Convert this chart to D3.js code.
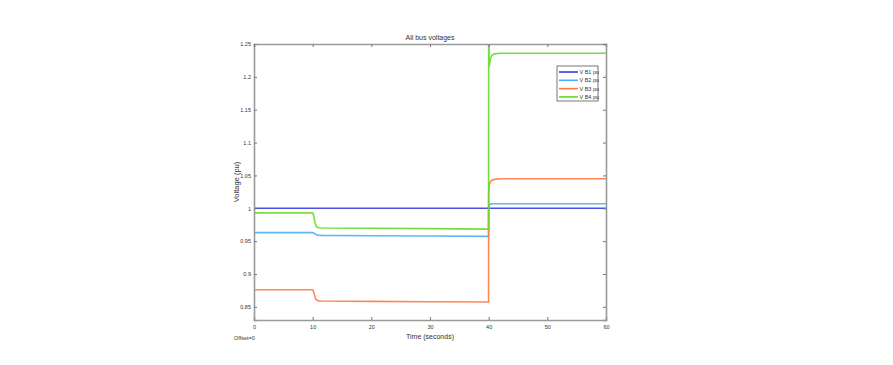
<!DOCTYPE html>
<html><head><meta charset="utf-8">
<script src="https://cdn.jsdelivr.net/npm/d3@7"></script>
<style>body{margin:0;background:#fff}svg{display:block}text{font-family:"Liberation Sans",Arial,sans-serif;fill:#333}</style>
</head><body><svg id="c" width="893" height="365"></svg>
<script>
const seriesNames = ["V B1 pu","V B2 pu","V B3 pu","V B4 pu"];
const seriesColors = ["#3a3ae6","#4ab0f5","#ff7a45","#66d92a"];
const time = [0,0.02,10.0,10.2,10.4,10.6,10.8,11.0,11.5,20,30,39.98,40.0,40.1,40.3,40.6,41.0,42.0,50,60];
const vB1 = [1.0,1.0,1.0,1.0,1.0,1.0,1.0,1.0,1.0,1.0,1.0,1.0,1.0,1.0,1.0,1.0,1.0,1.0,1.0,1.0];
const vB2 = [0.963,0.963,0.963,0.962,0.961,0.960,0.959,0.959,0.9588,0.9583,0.9578,0.9573,1.002,1.005,1.006,1.007,1.007,1.007,1.007,1.007];
const vB3 = [0.876,0.876,0.876,0.872,0.865,0.861,0.860,0.859,0.8588,0.8583,0.8578,0.8573,1.020,1.035,1.041,1.043,1.044,1.045,1.045,1.045];
const vB4 = [0.80,0.993,0.993,0.988,0.978,0.973,0.971,0.9705,0.970,0.9697,0.9690,0.9683,1.300,1.215,1.228,1.233,1.235,1.236,1.236,1.236];
const xTicks = [0,10,20,30,40,50,60];
const yTicks = [0.85,0.9,0.95,1,1.05,1.1,1.15,1.2,1.25];
const yTickLabels = ["0.85","0.9","0.95","1","1.05","1.1","1.15","1.2","1.25"];

const svg = d3.select("#c");
const L=254,R=606,T=44,B=320;
const x = d3.scaleLinear().domain([0,60]).range([L,R]);
const y = d3.scaleLinear().domain([0.83,1.25]).range([B,T]);

svg.append("defs").append("clipPath").attr("id","clip").append("rect")
  .attr("x",L).attr("y",T).attr("width",R-L).attr("height",B-T);

const all=[vB1,vB2,vB3,vB4];
const line=d3.line().x((d,i)=>x(time[i])).y(d=>y(d));
const g=svg.append("g").attr("clip-path","url(#clip)");
all.forEach((s,k)=>{
  g.append("path").attr("d",line(s)).attr("fill","none")
   .attr("stroke",seriesColors[k]).attr("stroke-width",1.6).attr("stroke-opacity",0.9);
});

const ac="#9a9a9a";
const fs="5.5px";
const ax=d3.axisBottom(x).tickValues(xTicks).tickSize(-3).tickPadding(5).tickFormat(d3.format("d"));
const gx=svg.append("g").attr("transform",`translate(0,${B})`).call(ax);
const ay=d3.axisLeft(y).tickValues(yTicks).tickSize(-3).tickPadding(3).tickFormat((d,i)=>yTickLabels[i]);
const gy=svg.append("g").attr("transform",`translate(${L},0)`).call(ay);
const axT=d3.axisTop(x).tickValues(xTicks).tickSize(-3).tickFormat("");
const gt=svg.append("g").attr("transform",`translate(0,${T})`).call(axT);
const ayR=d3.axisRight(y).tickValues(yTicks).tickSize(-3).tickFormat("");
const gr=svg.append("g").attr("transform",`translate(${R},0)`).call(ayR);
[gx,gy,gt,gr].forEach(gg=>{
  gg.select(".domain").attr("stroke",ac).attr("stroke-width",1.6);
  gg.selectAll(".tick line").attr("stroke","#777");
  gg.selectAll("text").style("font-size",fs).attr("fill","#333").style("font-family","Liberation Sans, Arial, sans-serif");
});

svg.append("text").attr("x",(L+R)/2).attr("y",40).attr("text-anchor","middle").style("font-size","7px").text("All bus voltages");
svg.append("text").attr("x",(L+R)/2).attr("y",339).attr("text-anchor","middle").style("font-size","7px").text("Time (seconds)");
svg.append("text").attr("transform",`translate(238.5,${(T+B)/2}) rotate(-90)`).attr("text-anchor","middle").style("font-size","7.5px").text("Voltage (pu)");
svg.append("text").attr("x",234).attr("y",340).style("font-size","5.5px").text("Offset=0");

const lg=svg.append("g");
lg.append("rect").attr("x",557).attr("y",66).attr("width",41).attr("height",35)
  .attr("fill","#fff").attr("stroke","#555").attr("stroke-width",0.8);
seriesNames.forEach((n,k)=>{
  const yy=72+k*8.3;
  lg.append("line").attr("x1",559).attr("x2",578).attr("y1",yy).attr("y2",yy)
    .attr("stroke",seriesColors[k]).attr("stroke-width",1.6);
  lg.append("text").attr("x",579.5).attr("y",yy+2).style("font-size","5.5px").text(n);
});
</script></body></html>
